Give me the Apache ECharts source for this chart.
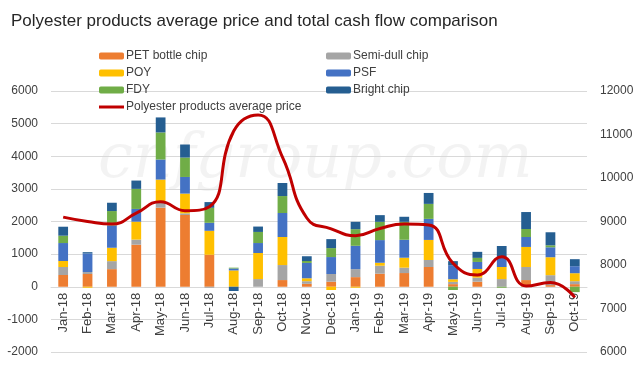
<!DOCTYPE html>
<html>
<head>
<meta charset="utf-8">
<script src="https://cdn.jsdelivr.net/npm/echarts@6/dist/echarts.min.js"></script>
<style>
  html, body { margin: 0; padding: 0; background: #fff; }
  #chart { width: 639px; height: 377px; }
</style>
</head>
<body>
<div id="chart"></div>
<script>
// months on the category axis
const months = ['Jan-18', 'Feb-18', 'Mar-18', 'Apr-18', 'May-18', 'Jun-18', 'Jul-18', 'Aug-18', 'Sep-18', 'Oct-18', 'Nov-18', 'Dec-18',
  'Jan-19', 'Feb-19', 'Mar-19', 'Apr-19', 'May-19', 'Jun-19', 'Jul-19', 'Aug-19', 'Sep-19', 'Oct-19']

// cash flow by product (left axis)
const petChip = [360, 390, 540, 1290, 2425, 2200, 980, 0, 0, 205, 90, 155, 295, 400, 420, 605, 80, 155, 0, 205, 50, 80]
const semiDull = [245, 60, 245, 155, 145, 50, -30, 0, 235, 460, 80, 235, 245, 245, 165, 215, 70, 125, 235, 400, 305, 90]
const poy = [185, -30, 410, 550, 715, 605, 735, 500, 800, 860, 90, -100, -30, 90, 305, 615, 80, 265, 370, 615, 550, 245]
const psf = [550, 570, 685, 390, 615, 510, 245, 60, 305, 735, 470, 520, 715, 695, 550, 645, 430, 215, 315, 305, 305, 215]
const fdy = [225, 0, 440, 615, 830, 595, 460, 25, 340, 520, 60, 275, 510, 560, 550, 460, -100, 125, -30, 245, 60, -165]
const brightChip = [275, 40, 255, 255, 460, 400, 175, -130, 165, 400, 145, 275, 225, 205, 155, 335, 125, 185, 330, 520, 400, 215]

// average price (right axis)
const avgPrice = [9100, 9000, 8940, 9190, 9455, 9250, 9340, 11080, 11450, 10480, 9080, 8830,
  8675, 8840, 8940, 8920, 8040, 7770, 8190, 7517, 7595, 7255]

const textColor = '#404040'
const font = 'Liberation Sans'
// thin stripe centred in the 25x7 legend box (corner points keep the box size)
const lineIcon = 'path://M0,0 L0,0 M0,2 L25,2 L25,5 L0,5 Z M25,7 L25,7'

let myChart = echarts.init(document.getElementById('chart'))

function barSeries(name, data, color) {
  return {
    name: name,
    type: 'bar',
    stack: 'cash',
    data: data,
    barWidth: '40%',
    itemStyle: { color: color },
    emphasis: { disabled: true }
  }
}

myChart.setOption({
  backgroundColor: '#fff',
  animation: false,
  textStyle: { fontFamily: font },
  title: {
    text: 'Polyester products average price and total cash flow comparison',
    left: 6,
    top: 8,
    textStyle: { fontSize: 17, fontWeight: 'normal', color: '#262626', fontFamily: font }
  },
  graphic: [
    {
      type: 'text',
      left: 98,
      top: 130,
      z: 0,
      silent: true,
      style: {
        text: 'cnfgroup.com',
        font: 'italic 62px "DejaVu Serif"',
        fill: 'rgba(215,215,215,0.3)'
      }
    }
  ],
  legend: [
    {
      left: 94,
      top: 44,
      orient: 'vertical',
      itemWidth: 25,
      itemHeight: 7,
      itemGap: 3,
      selectedMode: false,
      textStyle: { fontSize: 12, color: textColor, lineHeight: 14, padding: [0, 0, 0, -3] },
      data: ['PET bottle chip', 'POY', 'FDY',
        { name: 'Polyester products average price', icon: lineIcon, itemStyle: { color: '#c00000' } }]
    },
    {
      left: 321,
      top: 44,
      orient: 'vertical',
      itemWidth: 25,
      itemHeight: 7,
      itemGap: 3,
      selectedMode: false,
      textStyle: { fontSize: 12, color: textColor, lineHeight: 14, padding: [0, 0, 0, -3] },
      data: ['Semi-dull chip', 'PSF', 'Bright chip']
    }
  ],
  grid: { left: 51, right: 52, top: 91, bottom: 25, containLabel: false, outerBoundsMode: 'none' },
  xAxis: {
    type: 'category',
    data: months,
    // the axis sits on the zero line of the left axis (-2000..6000 over 261px)
    offset: -65.25,
    axisLine: { onZero: false, lineStyle: { color: '#d9d9d9' } },
    axisTick: { show: false },
    axisLabel: { rotate: 90, fontSize: 13, color: textColor, margin: 6, interval: 0 }
  },
  yAxis: [
    {
      type: 'value',
      min: -2000,
      max: 6000,
      interval: 1000,
      axisLine: { show: false },
      axisTick: { show: false },
      axisLabel: { fontSize: 12, color: textColor, margin: 13, formatter: function (v) { return String(v) } },
      splitLine: { lineStyle: { color: '#d9d9d9' } }
    },
    {
      type: 'value',
      min: 6000,
      max: 12000,
      interval: 1000,
      axisLine: { show: false },
      axisTick: { show: false },
      axisLabel: { fontSize: 12, color: textColor, margin: 13, formatter: function (v) { return String(v) } },
      splitLine: { show: false }
    }
  ],
  series: [
    barSeries('PET bottle chip', petChip, '#ed7d31'),
    barSeries('Semi-dull chip', semiDull, '#a5a5a5'),
    barSeries('POY', poy, '#ffc000'),
    barSeries('PSF', psf, '#4472c4'),
    barSeries('FDY', fdy, '#70ad47'),
    barSeries('Bright chip', brightChip, '#255e91'),
    {
      name: 'Polyester products average price',
      type: 'line',
      yAxisIndex: 1,
      data: avgPrice,
      smooth: 0.5,
      symbol: 'none',
      z: 5,
      lineStyle: { color: '#c00000', width: 3 },
      itemStyle: { color: '#c00000' }
    }
  ]
})
</script>
</body>
</html>
